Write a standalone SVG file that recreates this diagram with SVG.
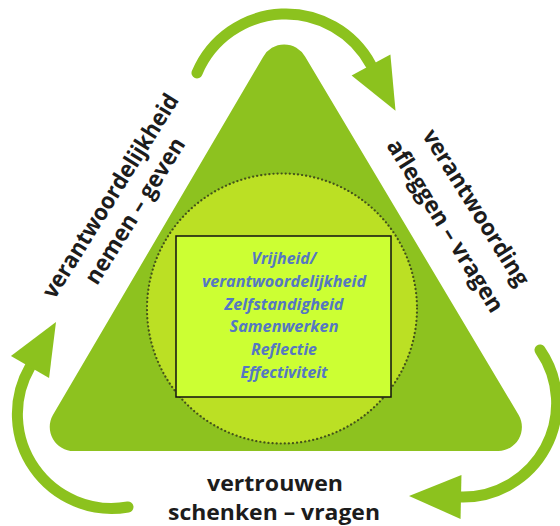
<svg xmlns="http://www.w3.org/2000/svg" width="560" height="526" viewBox="0 0 560 526">
  <style>
    .lbl { font-family: "Open Sans", "Liberation Sans", sans-serif; font-weight: 700; font-size: 23px; fill: #1c1c1c; text-anchor: middle; }
    .btm { font-size: 21px; }
    .core { font-family: "Open Sans", "Liberation Sans", sans-serif; font-weight: 700; font-style: italic; font-size: 16px; fill: #5577c2; text-anchor: middle; }
    .arc { fill: none; stroke: #8cc21e; stroke-width: 11; stroke-linecap: round; marker-end: url(#head); }
  </style>
  <defs>
    <marker id="head" markerUnits="userSpaceOnUse" markerWidth="60" markerHeight="50" refX="0" refY="22" orient="auto" viewBox="0 0 60 44" overflow="visible">
      <path d="M0,0 L52,22 L0,44 Z" fill="#8cc21e"/>
    </marker>
  </defs>
  <rect width="560" height="526" fill="#ffffff"/>

  <g id="triangle">
    <path d="M263.1,56.9 A24,24 0 0 1 305.2,56.8 L518.8,415.2 A24,24 0 0 1 498.4,451 L73.6,451 A24,24 0 0 1 52.9,415.1 Z" fill="#8dc21f"/>
  </g>

  <g id="circle">
    <circle cx="282" cy="308.5" r="135" fill="#bbe024" stroke="#44521a" stroke-width="2.2" stroke-dasharray="0.1 4" stroke-linecap="round"/>
  </g>

  <g id="core-values">
    <rect x="176" y="236" width="215" height="161" fill="#ccff33" stroke="#111111" stroke-width="1.5"/>
    <text class="core" x="284" y="264" textLength="65" lengthAdjust="spacingAndGlyphs">Vrijheid/</text>
    <text class="core" x="284" y="287" textLength="164" lengthAdjust="spacingAndGlyphs">verantwoordelijkheid</text>
    <text class="core" x="284" y="309.5" textLength="119" lengthAdjust="spacingAndGlyphs">Zelfstandigheid</text>
    <text class="core" x="284" y="332" textLength="109" lengthAdjust="spacingAndGlyphs">Samenwerken</text>
    <text class="core" x="284" y="355" textLength="66" lengthAdjust="spacingAndGlyphs">Reflectie</text>
    <text class="core" x="284" y="378" textLength="87" lengthAdjust="spacingAndGlyphs">Effectiviteit</text>
  </g>

  <g id="label-left">
    <text class="lbl" transform="translate(117,200) rotate(-58)" textLength="236" lengthAdjust="spacingAndGlyphs">verantwoordelijkheid</text>
    <text class="lbl" transform="translate(141.6,215) rotate(-58)" textLength="168" lengthAdjust="spacingAndGlyphs">nemen – geven</text>
  </g>

  <g id="label-right">
    <text class="lbl" transform="translate(469.5,211.8) rotate(58)" textLength="180" lengthAdjust="spacingAndGlyphs">verantwoording</text>
    <text class="lbl" transform="translate(438.8,230) rotate(58)" textLength="199" lengthAdjust="spacingAndGlyphs">afleggen – vragen</text>
  </g>

  <g id="label-bottom">
    <text class="lbl btm" x="275" y="491" textLength="136" lengthAdjust="spacingAndGlyphs">vertrouwen</text>
    <text class="lbl btm" x="274" y="520" textLength="212" lengthAdjust="spacingAndGlyphs">schenken – vragen</text>
  </g>

  <g id="connectors">
    <path class="arc" d="M197,73 A96.5,96.5 0 0 1 371,65"/>
    <path class="arc" d="M540,350 A93.7,93.7 0 0 1 461,497"/>
    <path class="arc" d="M128,507 A94.3,94.3 0 0 1 30,367"/>
  </g>
</svg>
